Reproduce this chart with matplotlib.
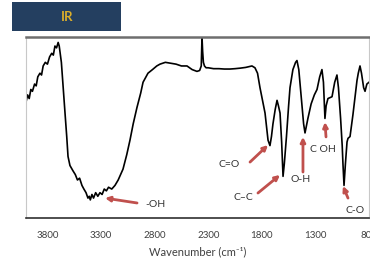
import matplotlib
matplotlib.use("Agg")
import matplotlib.pyplot as plt
from matplotlib.patches import Rectangle

plt.rcParams['font.family'] = ['Lato', 'DejaVu Sans']

wavenumber = [4000, 3985, 3970, 3955, 3940, 3920, 3905, 3890, 3870, 3855, 3840, 3820, 3800,
              3780, 3760, 3745, 3730, 3715, 3700, 3690, 3670, 3650, 3636, 3620, 3608, 3590,
              3561, 3540, 3520, 3500, 3478, 3460, 3440, 3422, 3410, 3400, 3385, 3370, 3350,
              3330, 3310, 3290, 3270, 3250, 3230, 3200, 3170, 3140, 3110, 3095, 3060, 3030,
              3000, 2965, 2930, 2908, 2880, 2862, 2820, 2780, 2750, 2700, 2650, 2600, 2550,
              2498, 2450, 2405, 2380, 2365, 2358, 2352, 2345, 2335, 2320, 2300, 2250, 2200,
              2150, 2097, 2050, 2000, 1950, 1892, 1864, 1840, 1817, 1790, 1770, 1742, 1724,
              1710, 1696, 1675, 1658, 1645, 1630, 1615, 1602, 1590, 1570, 1550, 1537, 1510,
              1485, 1472, 1455, 1430, 1410, 1397, 1370, 1340, 1310, 1285, 1260, 1239, 1225,
              1211, 1200, 1183, 1165, 1145, 1120, 1099, 1085, 1065, 1050, 1043, 1033, 1020,
              1005, 996, 977, 950, 930, 912, 900, 884, 870, 850, 837, 820, 800]
transmittance = [64, 68, 66, 71, 70, 74, 73, 78, 80, 79, 84, 86, 85,
                 89, 91, 90, 95, 94, 97, 95, 86, 70, 58, 45, 34, 29,
                 26, 24, 21, 22, 18, 16, 14, 11, 12, 10, 13, 11, 14,
                 12, 14, 13, 16, 15, 17, 16, 18, 21, 25, 27, 35, 43,
                 52, 61, 69, 75, 78, 80, 82, 84, 85, 86, 85.5, 85, 84,
                 84, 82, 81, 81.5, 84, 100, 92, 86, 84, 83, 83, 82.5, 82.5,
                 82.3, 82.3, 82.5, 82.8, 83.2, 84, 83, 80, 72, 64, 58, 43, 40,
                 45, 52, 60, 65, 62, 58, 42, 23, 30, 45, 62, 72, 82,
                 86, 87, 82, 65, 52, 47, 55, 63, 68, 71, 78, 82, 75,
                 55, 62, 66, 66.5, 67, 75, 79, 72, 55, 40, 30, 18, 30,
                 42, 44, 45, 57, 67, 76, 80, 84, 80, 72, 70, 74, 75]

tick_values = [3800, 3300, 2800, 2300, 1800, 1300, 800]
tick_labels = ["3800", "3300", "2800", "2300", "1800", "1300", "800"]

band_labels = ["-OH", "C=O", "C\u2013C", "O-H", "C OH", "C-O"]
label_pos = [(2890, 7.2), (2010, 29.3), (1976, 11.6), (1434, 21.0), (1350, 38.1), (931, 4.4)]
arrow_tail = [(2964, 8.3), (1910, 30.9), (1836, 13.8), (1416, 25.4), (1201, 44.8), (996, 11.0)]
arrow_tip = [(3263, 11.0), (1742, 40.3), (1630, 23.8), (1416, 44.8), (1211, 53.0), (1043, 17.7)]
label_ha = ["left", "right", "center", "center", "left", "center"]

fig = plt.figure(figsize=(3.70, 2.64), dpi=100)
ax = fig.add_axes([26/370, 46/264, 343/370, 181/264])
ax.plot(wavenumber, transmittance, color='black', lw=1.2)
ax.set_xlim(4000, 800)
ax.set_ylim(0, 100)
ax.set_yticks([])
ax.set_xticks(tick_values)
ax.set_xticklabels(tick_labels)
ax.tick_params(axis='x', length=0, pad=9, labelsize=7, labelcolor='#404040')
ax.set_xlabel("Wavenumber (cm\u207b\u00b9)", fontsize=8, color='#404040', labelpad=5)

ax.spines['left'].set_color('#c8c8c8')
ax.spines['right'].set_color('#c8c8c8')
ax.spines['top'].set_color('#6e6e6e')
ax.spines['top'].set_linewidth(1.8)
ax.spines['bottom'].set_color('#303030')
ax.spines['bottom'].set_linewidth(1.2)

red = '#c0504d'
for txt, pos, tail, tip, ha in zip(band_labels, label_pos, arrow_tail, arrow_tip, label_ha):
    ax.annotate("", xy=tip, xytext=tail,
                arrowprops=dict(arrowstyle='-|>', color=red, lw=2.0, mutation_scale=7,
                                shrinkA=0, shrinkB=0))
    ax.text(pos[0], pos[1], txt, fontsize=7.5, color='#333333', ha=ha, va='center')

fig.patches.append(Rectangle((12/370, 1 - 31/264), 109/370, 29/264,
                             transform=fig.transFigure, facecolor='#243f60',
                             edgecolor='none', zorder=0))
fig.text(67/370, 1 - 17/264, "IR", color='#dcae2a', fontsize=9.5, fontweight='bold',
         ha='center', va='center')

fig.savefig("out.png", dpi=100)
